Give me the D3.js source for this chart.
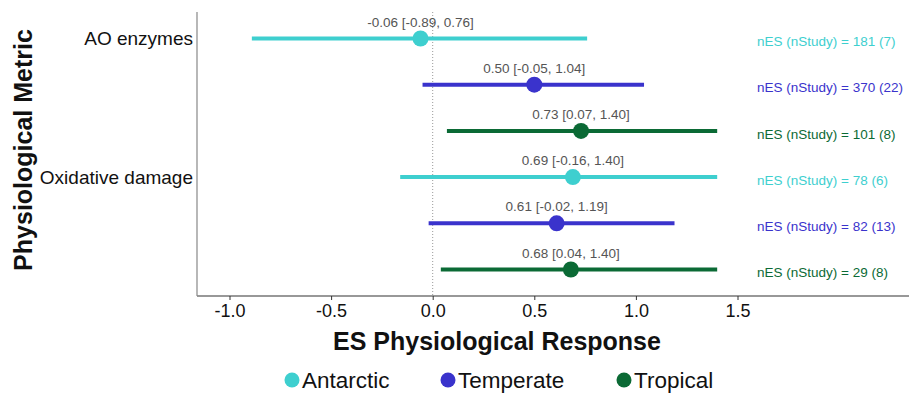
<!DOCTYPE html>
<html>
<head>
<meta charset="utf-8">
<script src="https://cdn.jsdelivr.net/npm/d3@7"></script>
<style>
  body { margin: 0; background: #fff; }
  text { font-family: "Liberation Sans", Arial, sans-serif; }
</style>
</head>
<body>
<div id="chart"></div>
<script>
// rows top to bottom
const metrics = ['AO enzymes', 'AO enzymes', 'AO enzymes', 'Oxidative damage', 'Oxidative damage', 'Oxidative damage'];
const regions = ['Antarctic', 'Temperate', 'Tropical', 'Antarctic', 'Temperate', 'Tropical'];
const means = [-0.06, 0.50, 0.73, 0.69, 0.61, 0.68];
const lower = [-0.89, -0.05, 0.07, -0.16, -0.02, 0.04];
const upper = [0.76, 1.04, 1.40, 1.40, 1.19, 1.40];
const nES = [181, 370, 101, 78, 82, 29];
const nStudy = [7, 22, 8, 6, 13, 8];
const regionNames = ['Antarctic', 'Temperate', 'Tropical'];
const regionColors = ['#3ecfcf', '#3a33cc', '#0b6a35'];
const xTicks = [-1.0, -0.5, 0.0, 0.5, 1.0, 1.5];

const width = 909, height = 397;
const margin = {left: 197, right: 0, top: 12, bottom: 101};

let svg = d3.select('#chart')
  .append('svg')
    .attr('width', width)
    .attr('height', height);

let x = d3.scaleLinear().domain([-1, 1.5]).range([229.5, 737.5]);
let y = d3.scalePoint().domain(d3.range(metrics.length)).range([38.5, 269.5]);
let color = d3.scaleOrdinal().domain(regionNames).range(regionColors);

// zero reference line
svg.append('line')
  .attr('x1', x(0)).attr('x2', x(0))
  .attr('y1', margin.top).attr('y2', height - margin.bottom)
  .attr('stroke', '#999')
  .attr('stroke-width', 1)
  .attr('stroke-dasharray', '1,2');

// axes
let xAxis = svg.append('g')
  .attr('transform', 'translate(0,' + (height - margin.bottom) + ')')
  .call(d3.axisBottom(x).tickValues(xTicks).tickFormat(d3.format('.1f')).tickSize(4));
xAxis.select('.domain').remove();
xAxis.append('line')
  .attr('x1', margin.left).attr('x2', width)
  .attr('stroke', '#333').attr('stroke-width', 1.2);
xAxis.selectAll('.tick line').attr('stroke', '#333');
xAxis.selectAll('.tick text')
  .attr('fill', '#111')
  .style('font-size', '18px')
  .attr('y', 6)
  .attr('dy', '0.85em')
  .text((d) => d3.format('.1f')(d).replace('\u2212', '-'));

svg.append('line')
  .attr('x1', margin.left).attr('x2', margin.left)
  .attr('y1', margin.top).attr('y2', height - margin.bottom)
  .attr('stroke', '#888').attr('stroke-width', 1.2);

// category labels (on the first row of each metric)
svg.append('g')
  .selectAll('text')
  .data(d3.range(metrics.length).filter((i) => i === 0 || metrics[i] !== metrics[i-1]))
  .enter().append('text')
    .attr('x', margin.left - 4)
    .attr('y', (i) => y(i))
    .attr('dy', '0.35em')
    .style('text-anchor', 'end')
    .style('font-size', '19px')
    .attr('fill', '#111')
    .text((i) => metrics[i]);

let rows = d3.range(metrics.length);

// CI lines
svg.append('g')
  .selectAll('line')
  .data(rows)
  .enter().append('line')
    .attr('x1', (i) => x(lower[i]))
    .attr('x2', (i) => x(upper[i]))
    .attr('y1', (i) => y(i))
    .attr('y2', (i) => y(i))
    .attr('stroke', (i) => color(regions[i]))
    .attr('stroke-width', 4);

// means
svg.append('g')
  .selectAll('circle')
  .data(rows)
  .enter().append('circle')
    .attr('cx', (i) => x(means[i]))
    .attr('cy', (i) => y(i))
    .attr('r', 8)
    .style('fill', (i) => color(regions[i]));

// estimate labels
let f2 = (v) => d3.format('.2f')(v).replace('\u2212', '-');
svg.append('g')
  .selectAll('text')
  .data(rows)
  .enter().append('text')
    .attr('x', (i) => x(means[i]))
    .attr('y', (i) => y(i) - 12)
    .style('text-anchor', 'middle')
    .style('font-size', '13.5px')
    .attr('fill', '#555')
    .text((i) => f2(means[i]) + ' [' + f2(lower[i]) + ', ' + f2(upper[i]) + ']');

// sample sizes
svg.append('g')
  .selectAll('text')
  .data(rows)
  .enter().append('text')
    .attr('x', 757)
    .attr('y', (i) => y(i) + 3)
    .attr('dy', '0.35em')
    .style('font-size', '13.5px')
    .attr('fill', (i) => color(regions[i]))
    .text((i) => 'nES (nStudy) = ' + nES[i] + ' (' + nStudy[i] + ')');

// axis titles
svg.append('text')
  .attr('x', 497).attr('y', 350)
  .style('text-anchor', 'middle')
  .style('font-size', '25px')
  .style('font-weight', 'bold')
  .attr('fill', '#111')
  .text('ES Physiological Response');

svg.append('text')
  .attr('transform', 'translate(32,150) rotate(-90)')
  .style('text-anchor', 'middle')
  .style('font-size', '25px')
  .style('font-weight', 'bold')
  .attr('fill', '#111')
  .text('Physiological Metric');

// legend
let legendX = [292, 448, 624];
let legend = svg.append('g')
  .selectAll('g')
  .data(regionNames)
  .enter().append('g')
    .attr('transform', (d, i) => 'translate(' + legendX[i] + ',380)');
legend.append('circle')
  .attr('r', 7.5)
  .style('fill', (d) => color(d));
legend.append('text')
  .attr('x', 10)
  .attr('dy', '0.35em')
  .style('font-size', '22.5px')
  .attr('fill', '#111')
  .text((d) => d);
</script>
</body>
</html>
